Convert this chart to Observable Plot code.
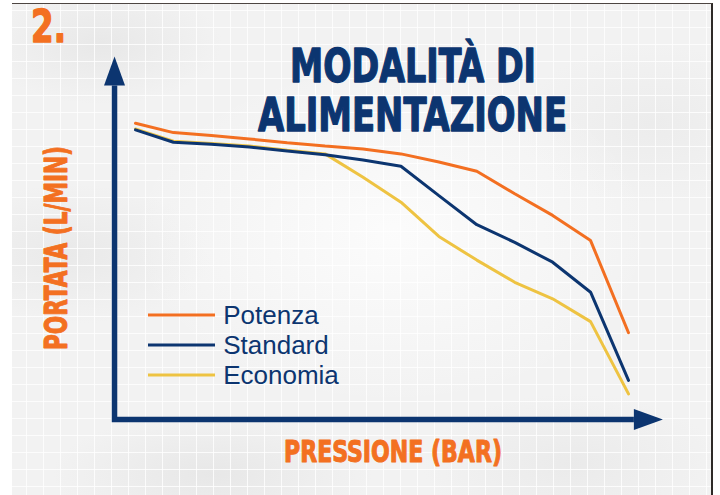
<!DOCTYPE html>
<html>
<head>
<meta charset="utf-8">
<script src="https://cdn.jsdelivr.net/npm/d3@7"></script>
<script src="https://cdn.jsdelivr.net/npm/@observablehq/plot@0.6"></script>
<style>
  html, body { margin: 0; padding: 0; background: #ffffff; }
  #wrap { position: relative; width: 720px; height: 495px; overflow: hidden; }
  #panel {
    position: absolute; left: 12px; top: 3px; width: 701px; height: 492px;
    box-sizing: border-box;
    border-top: 1.5px solid #4d4642; border-right: 2px solid #2e2a27;
    background-color: #f2f2f2;
    background-image:
      linear-gradient(to right, rgba(255,255,255,0.8) 1px, transparent 1px),
      linear-gradient(to bottom, rgba(255,255,255,0.8) 1px, transparent 1px),
      radial-gradient(ellipse 260px 170px at 380px 230px, rgba(252,252,252,0.95), rgba(252,252,252,0) 100%),
      radial-gradient(ellipse 120px 60px at 90px 40px, rgba(225,225,225,0.6), rgba(225,225,225,0) 100%),
      radial-gradient(ellipse 140px 70px at 60px 250px, rgba(226,226,226,0.55), rgba(226,226,226,0) 100%),
      radial-gradient(ellipse 160px 60px at 200px 470px, rgba(224,224,224,0.6), rgba(224,224,224,0) 100%),
      radial-gradient(ellipse 150px 70px at 560px 460px, rgba(228,228,228,0.55), rgba(228,228,228,0) 100%),
      radial-gradient(ellipse 130px 80px at 640px 120px, rgba(230,230,230,0.5), rgba(230,230,230,0) 100%);
    background-size: 17px 17px, 17px 17px, 100% 100%, 100% 100%, 100% 100%, 100% 100%, 100% 100%, 100% 100%;
    background-position: 14px 0, 0 6px, 0 0, 0 0, 0 0, 0 0, 0 0, 0 0;
    background-repeat: repeat, repeat, no-repeat, no-repeat, no-repeat, no-repeat, no-repeat, no-repeat;
  }
  #chart { position: absolute; left: 0; top: 0; }
</style>
</head>
<body>
<div id="wrap"><div id="panel"></div><div id="chart"></div></div>
<script>
// ---- data (flow in arbitrary units, pressure steps) ----
const steps    = [0, 1, 2, 3, 4, 5, 6, 7, 8, 9, 10, 11, 12, 13];
const potenza  = [98.9, 95.8, 94.8, 93.7, 92.4, 91.3, 90.3, 88.7, 86.0, 82.9, 75.4, 68.2, 59.8, 29.1];
const standard = [96.7, 92.6, 91.9, 91.0, 89.7, 88.4, 86.7, 84.6, 74.8, 65.1, 59.2, 52.6, 42.6, 13.2];
const economia = [97.0, 92.9, 92.2, 91.3, 89.9, 88.7, 80.9, 72.6, 61.2, 53.3, 45.9, 40.4, 32.8, 8.7];
const seriesNames  = ["Potenza", "Standard", "Economia"];
const seriesColors = ["#f36f21", "#0c3570", "#eec342"];
const badge = "2.";
const titleLines = ["MODALITÀ DI", "ALIMENTAZIONE"];
const yLabel = "PORTATA (L/MIN)";
const xLabel = "PRESSIONE (BAR)";

const orange = "#f37021";
const navy = "#0c3570";

// rows, drawn bottom-to-top: Economia, Standard, Potenza
const seriesValues = {Potenza: potenza, Standard: standard, Economia: economia};
const rows = [];
["Economia", "Standard", "Potenza"].forEach(name => {
  seriesValues[name].forEach((v, i) => rows.push({series: name, step: steps[i], flow: v}));
});

// axes arrows + legend swatches
function axesAndSwatches(index, {x, y}) {
  const g = d3.create("svg:g");
  const ox = x(-0.54), oy = y(0);
  const yTop = y(121), xEnd = x(13.92);
  const head = 29, half = 10.5;
  g.append("path")
    .attr("d", `M${ox},${yTop + head}V${oy}H${xEnd - head}`)
    .attr("fill", "none").attr("stroke", navy)
    .attr("stroke-width", 5.5).attr("stroke-linejoin", "miter").attr("stroke-linecap", "butt");
  g.append("path")
    .attr("d", `M${ox - half},${yTop + head}L${ox + half},${yTop + head}L${ox},${yTop}Z`)
    .attr("fill", navy);
  g.append("path")
    .attr("d", `M${xEnd - head},${oy - half}L${xEnd - head},${oy + half}L${xEnd},${oy}Z`)
    .attr("fill", navy);
  seriesNames.forEach((name, i) => {
    g.append("line")
      .attr("x1", 148).attr("x2", 215)
      .attr("y1", 315 + 30 * i).attr("y2", 315 + 30 * i)
      .attr("stroke", seriesColors[i]).attr("stroke-width", 3);
  });
  return g.node();
}

const condensed = "DejaVu Sans Condensed, DejaVu Sans, sans-serif";
const heavy = (fill, size) => ({fontFamily: condensed, fontWeight: "bold", fontSize: size, fill, stroke: fill, strokeWidth: 1.3,
  frameAnchor: "top-left", lineAnchor: "bottom", textAnchor: "middle"});

const plot = Plot.plot({
  width: 720,
  height: 495,
  margin: 0,
  x: {domain: [0, 13], range: [135, 628], axis: null},
  y: {domain: [0, 120], range: [419.5, 59.5], axis: null},
  color: {domain: seriesNames, range: seriesColors},
  style: {background: "transparent", overflow: "visible"},
  marks: [
    axesAndSwatches,
    Plot.line(rows, {x: "step", y: "flow", z: "series", stroke: "series", strokeWidth: 3, strokeLinejoin: "miter"}),
    Plot.text([badge], {...heavy(orange, 45), dx: 30.5, dy: 41.2, textAnchor: "start"}),
    Plot.text([titleLines[0]], {...heavy(navy, 47), dx: 412.5, dy: 81.2}),
    Plot.text([titleLines[1]], {...heavy(navy, 46), dx: 412, dy: 130.5}),
    Plot.text([yLabel], {...heavy(orange, 32), strokeWidth: 1, dx: 66.2, dy: 247.5, rotate: -90}),
    Plot.text([xLabel], {...heavy(orange, 30), strokeWidth: 1, dx: 392.5, dy: 461.2}),
    ...seriesNames.map((name, i) => Plot.text([name], {frameAnchor: "top-left", dx: 222.7, dy: 323.3 + 30 * i,
      textAnchor: "start", lineAnchor: "bottom", fontFamily: "Liberation Sans, Arial, sans-serif",
      fontSize: 26, fill: navy}))
  ]
});

// condensed display type: fit widths
const fits = new Map([[badge, 35], [titleLines[0], 246], [titleLines[1], 309], [yLabel, 204], [xLabel, 218]]);
plot.querySelectorAll("text").forEach(t => {
  const len = fits.get(t.textContent);
  if (len) {
    t.setAttribute("textLength", len);
    t.setAttribute("lengthAdjust", "spacingAndGlyphs");
  }
});
document.getElementById("chart").appendChild(plot);
</script>
</body>
</html>
